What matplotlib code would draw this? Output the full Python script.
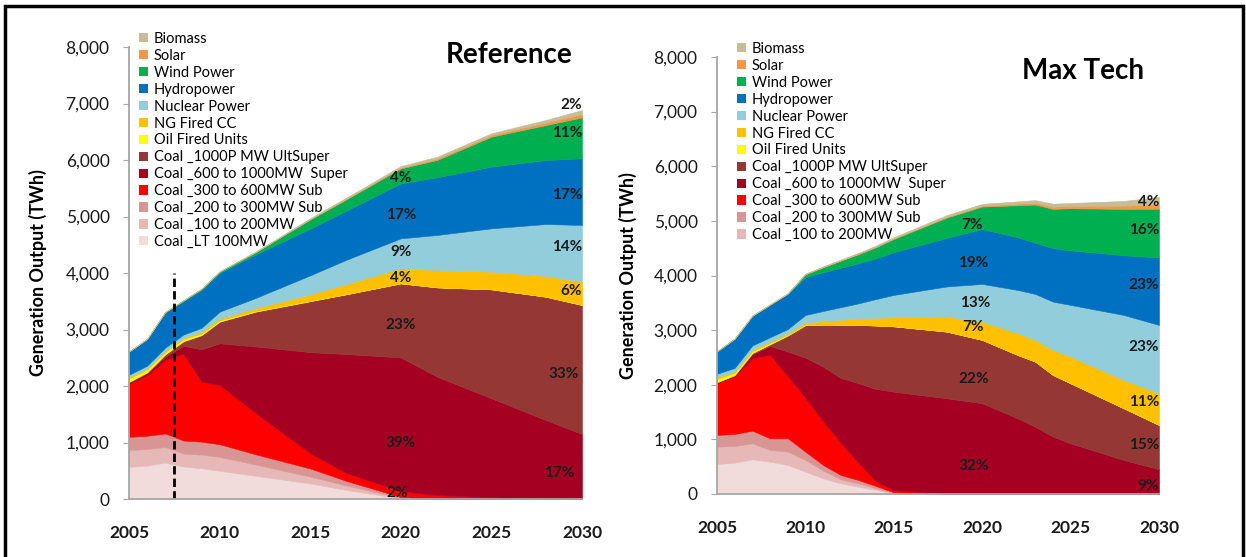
"""
Power generation mix by technology, Reference vs Max Tech scenarios
"""

import matplotlib.pyplot as plt
from matplotlib.patches import Patch, Rectangle
from matplotlib.ticker import FuncFormatter

plt.rcParams['font.family'] = ['Lato', 'DejaVu Sans']

# stacking order, bottom to top
series_names = ['Coal _LT 100MW', 'Coal _100 to 200MW', 'Coal _200 to 300MW Sub',
                'Coal _300 to 600MW Sub', 'Coal _600 to 1000MW  Super',
                'Coal _1000P MW UltSuper', 'Oil Fired Units', 'NG Fired CC',
                'Nuclear Power', 'Hydropower', 'Wind Power', 'Solar', 'Biomass']
series_colors = ['#F2DCDB', '#E6B9B8', '#D99594', '#FF0000', '#A50021', '#953735',
                 '#FFFF00', '#FFC000', '#92CDDC', '#0070C0', '#00B050', '#F79646',
                 '#C4BD97']

# Reference scenario (TWh)
years_ref = [2005, 2006, 2007, 2008, 2009, 2010, 2012, 2015, 2017, 2020, 2022, 2025, 2028, 2030]
ref_lt100 = [570, 590, 645, 575, 545, 500, 410, 275, 160, 10, 0, 0, 0, 0]
ref_100_200 = [297, 295, 275, 230, 240, 245, 200, 120, 80, 10, 0, 0, 0, 0]
ref_200_300 = [233, 235, 240, 230, 230, 225, 180, 145, 80, 15, 5, 0, 0, 0]
ref_300_600 = [940, 1070, 1300, 1535, 1061, 1048, 730, 270, 140, 105, 65, 30, 10, 0]
ref_super = [20, 40, 60, 140, 574, 737, 1180, 1790, 2105, 2367, 2095, 1752, 1388, 1150]
ref_ultsuper = [10, 10, 40, 80, 250, 383, 616, 900, 1060, 1310, 1581, 1929, 2183, 2284]
ref_oil = [60, 50, 40, 40, 30, 22, 14, 10, 0, 0, 0, 0, 0, 0]
ref_ng = [30, 20, 20, 20, 30, 30, 50, 113, 180, 266, 307, 313, 366, 413]
ref_nuclear = [40, 50, 60, 60, 70, 126, 180, 336, 430, 531, 620, 767, 920, 1003]
ref_hydro = [407, 470, 620, 590, 670, 684, 770, 826, 870, 973, 1020, 1091, 1133, 1180]
ref_wind = [3, 5, 10, 15, 20, 25, 40, 165, 200, 265, 307, 531, 619, 725]
ref_solar = [0, 0, 0, 0, 0, 0, 3, 5, 10, 15, 25, 30, 45, 60]
ref_biomass = [0, 0, 2, 3, 5, 5, 10, 15, 20, 26, 33, 30, 44, 70]

# Max Tech scenario (TWh)
years_mt = [2005, 2006, 2007, 2008, 2009, 2010, 2011, 2012, 2013, 2014, 2015, 2018,
            2020, 2022, 2023, 2024, 2025, 2028, 2030]
mt_lt100 = [549, 574, 635, 592, 531, 410, 287, 195, 134, 73, 10, 0, 0, 0, 0, 0, 0, 0, 0]
mt_100_200 = [318, 306, 293, 214, 244, 213, 140, 74, 61, 31, 10, 0, 0, 0, 0, 0, 0, 0, 0]
mt_200_300 = [214, 219, 232, 214, 245, 152, 104, 79, 61, 42, 10, 0, 0, 0, 0, 0, 0, 0, 0]
mt_300_600 = [946, 1050, 1325, 1526, 1140, 985, 799, 592, 314, 84, 40, 0, 0, 0, 0, 0, 0, 0, 0]
mt_super = [13, 21, 75, 165, 447, 737, 1002, 1185, 1457, 1693, 1804, 1752, 1661, 1386,
            1233, 1050, 928, 623, 452]
mt_ultsuper = [5, 5, 20, 29, 293, 593, 768, 975, 1068, 1162, 1196, 1221, 1160, 1160,
               1191, 1129, 1099, 947, 812]
mt_oil = [60, 45, 35, 25, 15, 10, 5, 0, 0, 0, 0, 0, 0, 0, 0, 0, 0, 0, 0]
mt_ng = [35, 20, 25, 25, 25, 38, 60, 90, 115, 140, 166, 277, 335, 397, 397, 458, 488, 518, 580]
mt_nuclear = [60, 70, 80, 80, 80, 140, 185, 230, 280, 345, 409, 550, 690, 793, 842, 885,
              947, 1190, 1251]
mt_hydro = [410, 530, 540, 592, 643, 690, 710, 722, 734, 746, 782, 889, 1004, 964, 937,
            978, 998, 1092, 1235]
mt_wind = [2, 5, 5, 6, 7, 55, 92, 130, 167, 205, 243, 372, 412, 587, 700, 720, 772, 850, 892]
mt_solar = [0, 0, 0, 0, 0, 2, 3, 5, 6, 8, 10, 15, 20, 30, 35, 40, 45, 60, 80]
mt_biomass = [2, 3, 5, 6, 8, 10, 12, 15, 18, 20, 22, 30, 30, 40, 45, 55, 50, 85, 138]

# share labels: (text, year, TWh, alignment)
ref_labels = [('4%', 2020, 5681, 'center'), ('17%', 2020, 5027, 'center'),
              ('9%', 2020, 4377, 'center'), ('4%', 2020, 3912, 'center'),
              ('23%', 2020, 3080, 'center'), ('39%', 2020, 991, 'center'),
              ('2%', 2019.8, 106, 'center'),
              ('2%', 2030, 6973, 'right'), ('11%', 2030, 6478, 'right'),
              ('17%', 2030, 5381, 'right'), ('14%', 2030, 4466, 'right'),
              ('6%', 2030, 3681, 'right'), ('33%', 2029.8, 2212, 'right'),
              ('17%', 2029.6, 465, 'right')]
mt_labels = [('7%', 2019.4, 4927, 'center'), ('19%', 2019.5, 4236, 'center'),
             ('13%', 2019.6, 3498, 'center'), ('7%', 2019.5, 3064, 'center'),
             ('22%', 2019.5, 2106, 'center'), ('32%', 2019.5, 513, 'center'),
             ('4%', 2030, 5353, 'right'), ('16%', 2030, 4835, 'right'),
             ('23%', 2030, 3828, 'right'), ('23%', 2030, 2698, 'right'),
             ('11%', 2030, 1690, 'right'), ('15%', 2030, 897, 'right'),
             ('9%', 2030, 152, 'right')]

# historical / projection split in the Reference panel
split_year = 2007.5
split_top = 4000

ref_layers = [ref_lt100, ref_100_200, ref_200_300, ref_300_600, ref_super, ref_ultsuper,
              ref_oil, ref_ng, ref_nuclear, ref_hydro, ref_wind, ref_solar, ref_biomass]
mt_layers = [mt_lt100, mt_100_200, mt_200_300, mt_300_600, mt_super, mt_ultsuper,
             mt_oil, mt_ng, mt_nuclear, mt_hydro, mt_wind, mt_solar, mt_biomass]

W, H = 1246, 557


def style_axes(ax):
    ax.set_xlim(2005, 2030)
    ax.set_ylim(0, 8000)
    ax.set_xticks(range(2005, 2031, 5))
    ax.set_yticks(range(0, 8001, 1000))
    ax.yaxis.set_major_formatter(FuncFormatter(lambda v, p: '{:,.0f}'.format(v)))
    for side in ('top', 'right'):
        ax.spines[side].set_visible(False)
    for side in ('left', 'bottom'):
        ax.spines[side].set_color('#A6A6A6')
        ax.spines[side].set_linewidth(1.3)
    ax.tick_params(axis='y', length=4, color='#A6A6A6', pad=10, labelsize=12.5,
                   labelcolor='#1a1a1a')
    ax.tick_params(axis='x', length=0, pad=19, labelsize=12.5, labelcolor='#1a1a1a')
    for lbl in ax.get_xticklabels():
        lbl.set_fontweight('bold')
    ax.set_ylabel('Generation Output (TWh)', fontsize=13, fontweight='bold')
    ax.yaxis.set_label_coords(-0.182, 0.5)
    ax.patch.set_alpha(0)


def draw_panel(fig, rect, years, layers, labels, title, title_xy, legend_xy, legend_count):
    ax = fig.add_axes(rect)
    ax.stackplot(years, layers, colors=series_colors, linewidth=0.4, edgecolor='face')
    style_axes(ax)

    for text, x, y, ha in labels:
        ax.text(x, y, text, ha=ha, va='center', fontsize=11, fontweight='bold',
                color='#1a1a1a')

    fig.text(title_xy[0] / W, 1 - title_xy[1] / H, title, ha='center', va='center',
             fontsize=20, fontweight='bold')

    handles = [Patch(facecolor=c, edgecolor='none', label=n)
               for n, c in zip(series_names, series_colors)]
    handles = handles[::-1][:legend_count]
    fig.legend(handles=handles, loc='upper left',
               bbox_to_anchor=(legend_xy[0] / W, 1 - legend_xy[1] / H),
               frameon=False, fontsize=10.5, handlelength=0.6, handleheight=0.6,
               handletextpad=0.4, labelspacing=0.2, borderpad=0, borderaxespad=0)
    return ax


def show_data():
    fig = plt.figure(figsize=(W / 100, H / 100), dpi=100)

    ax1 = draw_panel(fig, [129 / W, 1 - 499 / H, 453 / W, 452 / H], years_ref, ref_layers,
                     ref_labels, 'Reference', (509, 55), (139, 32), 13)
    ax1.plot([split_year, split_year], [0, split_top], color='black', lw=2,
             linestyle=(0, (3, 1.5)))

    draw_panel(fig, [717 / W, 1 - 494 / H, 442 / W, 437 / H], years_mt, mt_layers,
               mt_labels, 'Max Tech', (1083, 71), (737, 42), 12)

    # frame round the whole figure
    fig.patches.append(Rectangle((5 / W, -0.02), 1238 / W, 1.02 - 6 / H,
                                 transform=fig.transFigure, fill=False,
                                 edgecolor='black', lw=2.5))

    fig.savefig('out.png', dpi=100)


if __name__ == '__main__':
    show_data()
